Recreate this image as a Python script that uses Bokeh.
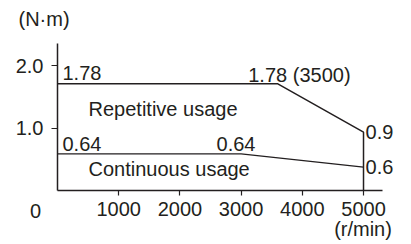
from bokeh.plotting import figure
from bokeh.models import FixedTicker, PrintfTickFormatter
from bokeh.core.properties import value
from bokeh.embed import file_html
from bokeh.resources import INLINE

# data
rep_speed = [0, 3600, 5000, 5000]
rep_torque = [1.707, 1.707, 0.933, 0.0]
cont_speed = [0, 3000, 5000]
cont_torque = [0.587, 0.587, 0.373]
x_ticks = [1000, 2000, 3000, 4000, 5000]
y_ticks = [1.0, 2.0]
point_labels = ["1.78", "1.78 (3500)", "0.64", "0.64", "0.9", "0.6"]
region_labels = ["Repetitive usage", "Continuous usage"]
x_unit = "(r/min)"
y_unit = "(N·m)"
origin_label = "0"

FONT = "Liberation Sans"
FS = "20px"
INK = "#231f20"

p = figure(width=411, height=244, output_backend="svg", toolbar_location=None,
           x_range=(-931, 5784), y_range=(-0.864, 3.04),
           min_border=0)
p.outline_line_color = None
p.grid.visible = False

for ax in (p.xaxis[0], p.yaxis[0]):
    ax.fixed_location = 0
    ax.axis_line_color = INK
    ax.axis_line_width = 1.5
    ax.major_tick_line_color = INK
    ax.major_tick_line_width = 1.2
    ax.major_tick_in = 0
    ax.minor_tick_line_color = None
    ax.major_label_text_font = FONT
    ax.major_label_text_font_size = FS
    ax.major_label_text_color = INK

p.xaxis.ticker = FixedTicker(ticks=x_ticks)
p.xaxis.bounds = (0, 5306)
p.xaxis.major_tick_out = 5
p.xaxis.major_label_standoff = 6
p.yaxis.ticker = FixedTicker(ticks=y_ticks)
p.yaxis.bounds = (0, 2.35)
p.yaxis.formatter = PrintfTickFormatter(format="%.1f")
p.yaxis.major_tick_out = 6
p.yaxis.major_label_standoff = 8

p.line(rep_speed, rep_torque, line_color=INK, line_width=1.5)
p.line(cont_speed, cont_torque, line_color=INK, line_width=1.3)

def txt(x, y, t, align="left"):
    p.text(x=[x], y=[y], text=[t], text_align=align, text_baseline="middle",
           text_font=value(FONT), text_font_size=FS, text_color=INK)

txt(82, 1.88, point_labels[0])
txt(4788, 1.856, point_labels[1], "right")
txt(82, 0.752, point_labels[2])
txt(3235, 0.752, point_labels[3], "right")
txt(5033, 0.933, point_labels[4])
txt(5033, 0.373, point_labels[5])
txt(507, 1.31, region_labels[0])
txt(507, 0.347, region_labels[1])
txt(-359, -0.32, origin_label, "center")
txt(4992, -0.61, x_unit, "center")
txt(-637, 2.75, y_unit)

open("out.html", "w").write(file_html(p, INLINE))
